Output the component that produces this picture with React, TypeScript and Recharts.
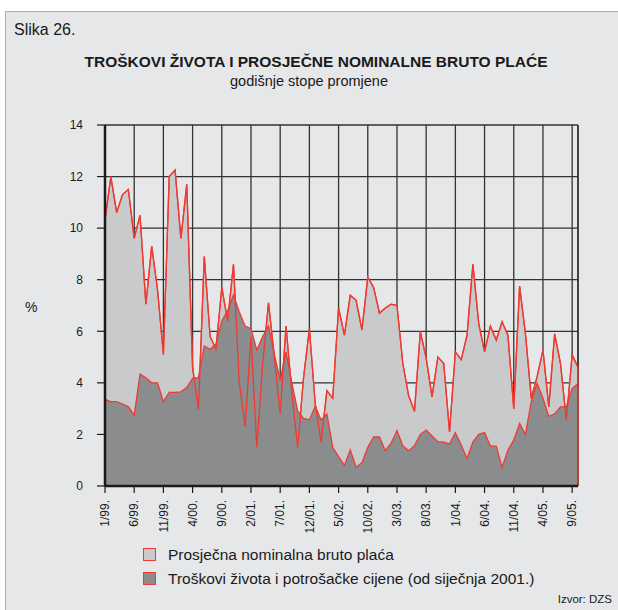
import { Area, CartesianGrid, ComposedChart, Line, ReferenceLine, XAxis, YAxis } from "recharts";

const FONT = '"Liberation Sans", Arial, Helvetica, sans-serif';
const RED = "#ee3b32";
const LIGHT = "#c9cacc";
const DARK = "#8b8c8e";
const BG = "#e6e7e9";
const GRID = "#333";

// godišnje stope promjene, mjesečno od 1/99. do 10/05.
const WAGES = [
  10.3, 12.0, 10.6, 11.3, 11.5, 9.6, 10.5, 7.05, 9.3, 7.6,
  5.1, 12.0, 12.25, 9.6, 11.7, 4.6, 2.95, 8.9, 5.8, 5.3,
  7.7, 6.4, 8.6, 4.0, 2.3, 5.8, 1.5, 4.7, 7.1, 5.0,
  2.8, 6.2, 3.6, 1.5, 4.2, 6.1, 3.2, 1.7, 3.7, 3.4,
  6.9, 5.85, 7.4, 7.2, 6.05, 8.1, 7.7, 6.7, 6.9, 7.05,
  7.0, 4.75, 3.5, 2.9, 6.0, 4.96, 3.46, 5.0, 4.76, 2.1,
  5.2, 4.9, 5.85, 8.6, 6.3, 5.2, 6.2, 5.66, 6.37, 5.85,
  3.0, 7.75, 5.9, 3.4, 4.24, 5.27, 3.07, 5.9, 4.75, 2.56,
  5.08, 4.6,
];

const COST_OF_LIVING = [
  3.36, 3.27, 3.27, 3.18, 3.07, 2.75, 4.34, 4.2, 4.0, 4.0,
  3.27, 3.63, 3.63, 3.65, 3.82, 4.17, 4.2, 5.43, 5.3, 5.5,
  6.4, 6.8, 7.4, 6.75, 6.2, 6.1, 5.27, 5.8, 6.2, 5.1,
  4.1, 5.2, 4.0, 2.9, 2.62, 2.56, 3.1, 2.56, 2.8, 1.5,
  1.14, 0.8, 1.4, 0.73, 0.9, 1.5, 1.9, 1.9, 1.37, 1.66,
  2.15, 1.56, 1.37, 1.56, 2.0, 2.17, 1.94, 1.72, 1.7, 1.63,
  2.07, 1.59, 1.07, 1.7, 2.0, 2.07, 1.55, 1.55, 0.72, 1.4,
  1.78, 2.43, 2.0, 3.27, 3.98, 3.4, 2.7, 2.8, 3.07, 3.07,
  3.78, 3.98,
];

const X_TICKS = [0, 5, 10, 15, 20, 25, 30, 35, 40, 45, 50, 55, 60, 65, 70, 75, 80];
const X_TICK_LABELS = [
  "1/99.", "6/99.", "11/99.", "4/00.", "9/00.", "2/01.", "7/01.", "12/01.", "5/02.",
  "10/02.", "3/03.", "8/03.", "1/04.", "6/04.", "11/04.", "4/05.", "9/05.",
];
const Y_TICKS = [0, 2, 4, 6, 8, 10, 12, 14];

const LEGEND = [
  { label: "Prosječna nominalna bruto plaća", fill: LIGHT },
  { label: "Troškovi života i potrošačke cijene (od siječnja 2001.)", fill: DARK },
];

const data = WAGES.map((wage, i) => ({ i, wage, cpi: COST_OF_LIVING[i] }));
const last = data[data.length - 1];

function MonthTick(props: any) {
  const { x, y, payload } = props;
  const label = X_TICK_LABELS[X_TICKS.indexOf(payload.value)];
  return (
    <text
      x={x}
      y={y}
      dy="0.35em"
      textAnchor="end"
      transform={`rotate(-90 ${x} ${y})`}
      fill="#1a1a1a"
      fontSize={12}
      fontFamily={FONT}
    >
      {label}
    </text>
  );
}

const abs = (style: any) => ({ position: "absolute" as const, fontFamily: FONT, lineHeight: 1, color: "#1a1a1a", ...style });

export default function App() {
  return (
    <div style={{ position: "absolute", left: 0, top: 0, width: 618, height: 610, background: "#fff", overflow: "hidden" }}>
      <div
        style={{
          position: "absolute",
          left: 5,
          top: 11,
          width: 613,
          height: 599,
          boxSizing: "border-box",
          background: BG,
          borderTop: "1.5px solid #f0918b",
          borderLeft: "1.5px solid #f0918b",
        }}
      />
      <div style={abs({ left: 14, top: 22, fontSize: 16 })}>Slika 26.</div>
      <div style={abs({ left: 0, width: 632, top: 54, fontSize: 15.5, fontWeight: 700, textAlign: "center" })}>
        TROŠKOVI ŽIVOTA I PROSJEČNE NOMINALNE BRUTO PLAĆE
      </div>
      <div style={abs({ left: 0, width: 618, top: 74, fontSize: 14.5, textAlign: "center" })}>godišnje stope promjene</div>
      <div style={abs({ left: 25, top: 300, fontSize: 14 })}>%</div>

      <div style={{ position: "absolute", left: 0, top: 0 }}>
        <ComposedChart width={618} height={610} data={data} margin={{ top: 125, right: 40, bottom: 74, left: 65 }}>
          <CartesianGrid stroke={GRID} strokeWidth={1.3} />
          <XAxis
            dataKey="i"
            type="number"
            domain={[0, 81]}
            ticks={X_TICKS}
            interval={0}
            height={50}
            tickSize={7}
            tickMargin={7}
            tick={<MonthTick />}
            tickLine={{ stroke: "#1a1a1a", strokeWidth: 1.2 }}
            axisLine={{ stroke: "#1a1a1a", strokeWidth: 2.5 }}
          />
          <YAxis
            type="number"
            domain={[0, 14]}
            ticks={Y_TICKS}
            interval={0}
            width={40}
            tickSize={8}
            tickMargin={14}
            tick={{ fill: "#1a1a1a", fontSize: 12, fontFamily: FONT }}
            tickLine={{ stroke: "#1a1a1a", strokeWidth: 1.2 }}
            axisLine={{ stroke: "#1a1a1a", strokeWidth: 2.5 }}
          />
          <ReferenceLine x={81} stroke={GRID} strokeWidth={1.5} />
          <Area
            type="linear"
            dataKey="wage"
            fill={LIGHT}
            fillOpacity={1}
            stroke={RED}
            strokeWidth={1.3}
            dot={false}
            activeDot={false}
            isAnimationActive={false}
          />
          <Area
            type="linear"
            dataKey="cpi"
            fill={DARK}
            fillOpacity={1}
            stroke={RED}
            strokeWidth={1.3}
            dot={false}
            activeDot={false}
            isAnimationActive={false}
          />
          <Line
            type="linear"
            dataKey="wage"
            stroke={RED}
            strokeWidth={1.3}
            dot={false}
            activeDot={false}
            isAnimationActive={false}
          />
          <ReferenceLine
            segment={[
              { x: last.i, y: 0 },
              { x: last.i, y: last.wage },
            ]}
            stroke={RED}
            strokeWidth={1.3}
          />
        </ComposedChart>
      </div>

      {LEGEND.map((item, k) => (
        <div key={item.label} style={abs({ left: 143, top: 547 + k * 24, display: "flex", alignItems: "center" })}>
          <span
            style={{
              display: "inline-block",
              width: 13,
              height: 13,
              boxSizing: "border-box",
              background: item.fill,
              border: `1.5px solid ${RED}`,
              marginRight: 12,
            }}
          />
          <span style={{ fontSize: 15.5 }}>{item.label}</span>
        </div>
      ))}
      <div style={abs({ right: 6, top: 594, fontSize: 11.5 })}>Izvor: DZS</div>
    </div>
  );
}
